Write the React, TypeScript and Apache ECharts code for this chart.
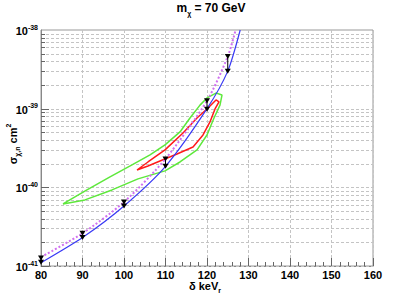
import { useEffect, useRef } from "react";
import * as echarts from "echarts";

// ---- data (cross-section in cm^2) ----
const pointDelta = [80, 90, 100, 110, 120, 125];
const pointUpper = [1.26e-41, 2.6e-41, 6.5e-41, 2.3e-40, 1.26e-39, 4.6e-39];
const pointLower = [1.12e-41, 2.3e-41, 5.8e-41, 1.85e-40, 9.8e-40, 3.0e-39];

const blueDelta = [80, 90, 100, 110, 120, 125, 128];
const blueSigma = [1.1e-41, 2.3e-41, 5.8e-41, 1.85e-40, 1.0e-39, 3.0e-39, 1e-38];

const magentaDelta = [80, 90, 100, 110, 120, 125, 126.9];
const magentaSigma = [1.3e-41, 2.6e-41, 6.5e-41, 2.3e-40, 1.26e-39, 4.6e-39, 1e-38];

const greenDelta = [85.3, 91.08, 96.63, 101.93, 106.27, 109.88, 113.49, 115.9, 118.31, 120.0, 122.17, 123.61,
  123.13, 121.69, 120.0, 117.59, 113.49, 109.88, 103.37, 97.11, 90.6, 85.3];
const greenSigma = [6.15e-41, 9.27e-41, 1.36e-40, 1.93e-40, 2.58e-40, 3.46e-40, 5.06e-40, 7.62e-40, 1.11e-39, 1.37e-39, 1.58e-39, 1.49e-39,
  1.11e-39, 7.62e-40, 4.63e-40, 2.99e-40, 2.1e-40, 1.62e-40, 1.28e-40, 9.27e-41, 6.92e-41, 6.15e-41];

const redDelta = [103.13, 105.78, 109.88, 114.22, 117.59, 120.24, 122.17, 122.89, 121.93, 120.72, 119.04, 116.63, 112.77, 108.67, 105.78, 103.13];
const redSigma = [1.66e-40, 2.1e-40, 2.99e-40, 4.91e-40, 7.62e-40, 1.02e-39, 1.29e-39, 1.22e-39, 9.91e-40, 6.78e-40, 4.63e-40, 3.26e-40, 2.65e-40, 2.16e-40, 1.87e-40, 1.66e-40];

const decadeExponents = [-41, -40, -39];
const minorMultipliers = [1, 2, 3, 4, 5, 6, 7, 8, 9];

const X_MIN = 80;
const X_MAX = 160;
// the y axis works in units of 1e-41 cm^2 (ECharts rounds tiny numbers to 0)
const UNIT_EXP = -41;
const UNIT = Math.pow(10, UNIT_EXP);
const Y_MIN = 1e-41;
const Y_MAX = 1e-38;

const FONT = "'Liberation Sans', Arial, sans-serif";

const u = (v: number) => v / UNIT;

export default function App() {
  const ref = useRef<HTMLDivElement>(null);

  useEffect(() => {
    if (!ref.current) return;
    const chart = echarts.init(ref.current, undefined, { renderer: "svg" });

    const gridRows: number[][] = [];
    decadeExponents.forEach((e) => {
      minorMultipliers.forEach((k) => {
        gridRows.push([X_MIN, k * Math.pow(10, e - UNIT_EXP), k === 1 ? 1 : 0]);
      });
    });

    const pair = (xs: number[], ys: number[]) => xs.map((x, i) => [x, u(ys[i])]);

    const option: any = {
      animation: false,
      grid: {
        left: 41,
        right: 42,
        top: 30,
        bottom: 33,
        show: true,
        borderColor: "#999",
        borderWidth: 1,
        backgroundColor: "transparent",
      },
      xAxis: {
        type: "value",
        min: X_MIN,
        max: X_MAX,
        interval: 10,
        axisLine: { show: true, lineStyle: { color: "#888", width: 1 } },
        axisTick: { show: true, inside: true, length: 8, lineStyle: { color: "#666" } },
        minorTick: { show: true, splitNumber: 5, length: 4, lineStyle: { color: "#666" } },
        splitLine: { show: true, lineStyle: { color: "#c4c4c4", type: [3, 2], width: 1 } },
        axisLabel: {
          color: "#000",
          fontFamily: FONT,
          fontWeight: "bold",
          fontSize: 11,
          margin: 3,
        },
      },
      yAxis: {
        type: "log",
        logBase: 10,
        min: u(Y_MIN),
        max: u(Y_MAX),
        splitNumber: 3,
        axisLine: { show: true, lineStyle: { color: "#888", width: 1 } },
        axisTick: { show: false },
        splitLine: { show: false },
        axisLabel: {
          margin: 3,
          formatter: (v: number) => `{b|10}{s|${Math.round(Math.log10(v)) + UNIT_EXP}}`,
          rich: {
            b: { fontFamily: FONT, fontWeight: "bold", fontSize: 11, color: "#000", lineHeight: 13, verticalAlign: "bottom", padding: [4, 0, 0, 0] },
            s: { fontFamily: FONT, fontWeight: "bold", fontSize: 7, color: "#000", lineHeight: 8, verticalAlign: "top" },
          },
        },
      },
      graphic: [
        {
          type: "text",
          x: 211,
          y: 9,
          style: {
            text: "{m|m}{s|χ}{m| = 70 GeV}",
            align: "center",
            verticalAlign: "middle",
            rich: {
              m: { fontFamily: FONT, fontWeight: "bold", fontSize: 12, fill: "#000", lineHeight: 15, verticalAlign: "top" },
              s: { fontFamily: FONT, fontWeight: "bold", fontSize: 7, fill: "#000", lineHeight: 8, verticalAlign: "bottom" },
            },
          },
        },
        {
          type: "text",
          x: 205,
          y: 287,
          style: {
            text: "{m|δ keV}{s|r}",
            align: "center",
            verticalAlign: "middle",
            rich: {
              m: { fontFamily: FONT, fontWeight: "bold", fontSize: 11, fill: "#000", lineHeight: 13, verticalAlign: "top" },
              s: { fontFamily: FONT, fontWeight: "bold", fontSize: 7, fill: "#000", lineHeight: 8, verticalAlign: "bottom" },
            },
          },
        },
        {
          type: "text",
          x: 13,
          y: 144,
          rotation: Math.PI / 2,
          style: {
            text: "{m|σ}{s|χ,n}{m| cm}{p|2}",
            align: "center",
            verticalAlign: "middle",
            rich: {
              m: { fontFamily: FONT, fontWeight: "bold", fontSize: 11, fill: "#000", lineHeight: 16 },
              s: { fontFamily: FONT, fontWeight: "bold", fontSize: 7, fill: "#000", lineHeight: 8, verticalAlign: "bottom" },
              p: { fontFamily: FONT, fontWeight: "bold", fontSize: 7, fill: "#000", lineHeight: 8, verticalAlign: "top" },
            },
          },
        },
      ],
      series: [
        {
          type: "custom",
          name: "ygrid",
          data: gridRows,
          encode: { x: 0, y: 1 },
          z: 1,
          silent: true,
          clip: false,
          renderItem: (_params: any, api: any) => {
            const v = api.value(1);
            const major = api.value(2) === 1;
            const a = api.coord([X_MIN, v]);
            const b = api.coord([X_MAX, v]);
            const y = Math.round(a[1]) + 0.5;
            return {
              type: "group",
              children: [
                {
                  type: "line",
                  shape: { x1: a[0], y1: y, x2: b[0], y2: y },
                  style: { stroke: "#c4c4c4", lineDash: [3, 2], lineWidth: 1 },
                },
                {
                  type: "line",
                  shape: { x1: a[0], y1: y, x2: a[0] + (major ? 8 : 4), y2: y },
                  style: { stroke: "#666", lineWidth: 1 },
                },
              ],
            };
          },
        },
        {
          type: "line",
          name: "green",
          data: pair(greenDelta, greenSigma),
          showSymbol: false,
          z: 3,
          lineStyle: { color: "#5ee83c", width: 1.5 },
        },
        {
          type: "line",
          name: "red",
          data: pair(redDelta, redSigma),
          showSymbol: false,
          z: 4,
          lineStyle: { color: "#ff1a1a", width: 1.5 },
        },
        {
          type: "line",
          name: "magenta",
          data: pair(magentaDelta, magentaSigma),
          showSymbol: false,
          smooth: 0.25,
          z: 5,
          lineStyle: { color: "#d070f0", width: 2, type: [2, 2] },
        },
        {
          type: "line",
          name: "blue",
          data: pair(blueDelta, blueSigma),
          showSymbol: false,
          smooth: 0.25,
          z: 6,
          lineStyle: { color: "#3a3af5", width: 1.2 },
        },
        {
          type: "custom",
          name: "points",
          data: pointDelta.map((d, i) => [d, u(pointUpper[i]), u(pointLower[i])]),
          encode: { x: 0, y: [1, 2] },
          z: 7,
          clip: false,
          renderItem: (_params: any, api: any) => {
            const x = api.value(0);
            const p1 = api.coord([x, api.value(1)]);
            const p2 = api.coord([x, api.value(2)]);
            const tri = (p: number[]) => ({
              type: "polygon",
              shape: { points: [[p[0] - 3, p[1] - 2.5], [p[0] + 3, p[1] - 2.5], [p[0], p[1] + 2.5]] },
              style: { fill: "#000" },
            });
            return {
              type: "group",
              children: [
                {
                  type: "line",
                  shape: { x1: p1[0], y1: p1[1], x2: p2[0], y2: p2[1] },
                  style: { stroke: "#000", lineWidth: 1 },
                },
                tri(p1),
                tri(p2),
              ],
            };
          },
        },
      ],
    };

    chart.setOption(option);
    return () => chart.dispose();
  }, []);

  return (
    <div
      ref={ref}
      style={{ position: "absolute", left: 0, top: 0, width: 415, height: 299, background: "#fff" }}
    />
  );
}
